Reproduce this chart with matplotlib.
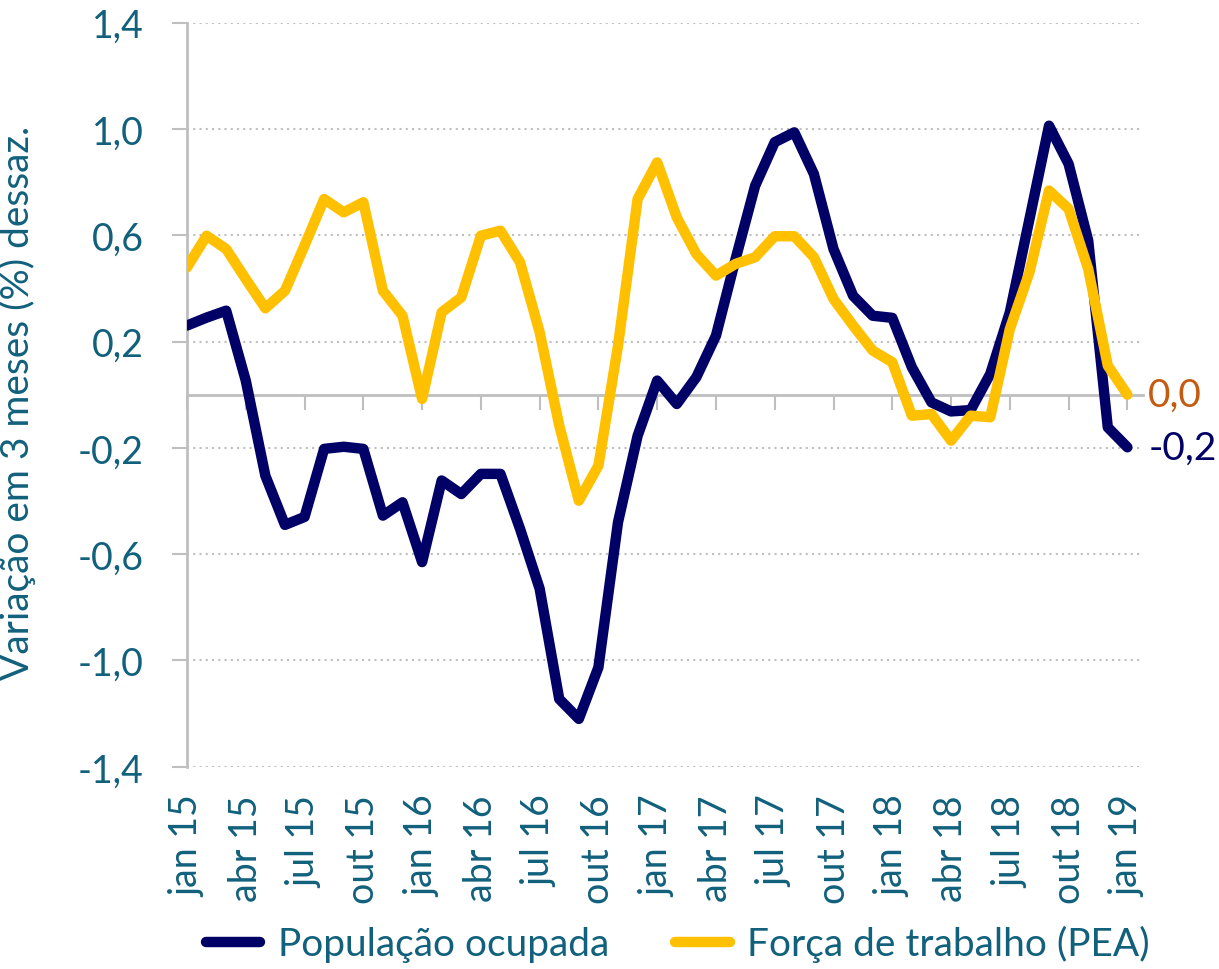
import matplotlib
matplotlib.use("Agg")
import matplotlib.pyplot as plt

# variação em 3 meses (%), dessazonalizada, jan 15 .. jan 19
meses = ["jan", "fev", "mar", "abr", "mai", "jun", "jul", "ago", "set", "out", "nov", "dez"]
anos = ["15", "16", "17", "18", "19"]
ocupada = [0.26, 0.29, 0.316, 0.053, -0.305, -0.49, -0.46, -0.204, -0.196, -0.204,
           -0.455, -0.405, -0.63, -0.323, -0.374, -0.298, -0.298, -0.505, -0.73, -1.145,
           -1.22, -1.026, -0.48, -0.155, 0.053, -0.035, 0.066, 0.222, 0.51, 0.786,
           0.95, 0.987, 0.83, 0.548, 0.372, 0.297, 0.289, 0.103, -0.029, -0.063,
           -0.058, 0.078, 0.31, 0.66, 1.012, 0.868, 0.58, -0.123, -0.198]
pea = [0.479, 0.598, 0.548, 0.435, 0.325, 0.391, 0.561, 0.736, 0.686, 0.724,
       0.391, 0.297, -0.016, 0.31, 0.366, 0.598, 0.617, 0.498, 0.235, -0.116,
       -0.399, -0.267, 0.184, 0.736, 0.874, 0.667, 0.529, 0.448, 0.492, 0.517,
       0.596, 0.596, 0.517, 0.36, 0.26, 0.166, 0.122, -0.079, -0.073, -0.173,
       -0.079, -0.085, 0.247, 0.46, 0.768, 0.699, 0.473, 0.109, 0.0]
yticks = [-1.4, -1.0, -0.6, -0.2, 0.2, 0.6, 1.0, 1.4]

navy = "#000066"
amarelo = "#FFC000"
texto = "#11607C"
cinza = "#BFBFBF"

plt.rcParams["font.family"] = ["Lato", "DejaVu Sans"]

fig = plt.figure(figsize=(12.19, 9.70), dpi=100)
ax = fig.add_axes([0.1534, 0.2085, 0.7843, 0.7672])

x = list(range(len(ocupada)))
rotulos = [meses[i % 12] + " " + anos[i // 12] for i in x]

ax.set_ylim(-1.4, 1.4)
ax.set_xlim(0, 48.8)

for v in yticks:
    ax.axhline(v, color=cinza, lw=1.5, ls=(0, (1, 2)), zorder=1)

l1, = ax.plot(x, ocupada, color=navy, lw=7.5, solid_joinstyle="round",
              solid_capstyle="round", zorder=3, label="População ocupada")
l2, = ax.plot(x, pea, color=amarelo, lw=7.5, solid_joinstyle="round",
              solid_capstyle="round", zorder=4, label="Força de trabalho (PEA)")

# eixo das categorias cruzando em zero
for s in ["top", "right"]:
    ax.spines[s].set_visible(False)
ax.spines["bottom"].set_position(("data", 0))
ax.spines["bottom"].set_color(cinza)
ax.spines["bottom"].set_linewidth(2)
ax.spines["bottom"].set_zorder(2)
ax.spines["left"].set_color(cinza)
ax.spines["left"].set_linewidth(2)

ax.set_xticks(x[::3])
ax.tick_params(axis="x", direction="out", length=11, width=1.5, color=cinza,
               labelbottom=False)
ax.set_yticks(yticks)
ax.set_yticklabels([f"{v:.1f}".replace(".", ",") for v in yticks])
ax.tick_params(axis="y", direction="out", length=11, width=1.5, color=cinza,
               labelsize=27, labelcolor=texto, pad=20)

sec = ax.secondary_xaxis(0)
sec.set_xticks(x[::3])
sec.set_xticklabels(rotulos[::3], rotation=90)
sec.tick_params(length=0, pad=20, labelsize=27, labelcolor=texto)
sec.spines["bottom"].set_visible(False)

ax.set_ylabel("Variação em 3 meses (%) dessaz.", fontsize=28, color=texto)
ax.yaxis.set_label_coords(-0.158, 0.49)

ax.annotate(f"{pea[-1]:.1f}".replace(".", ","), xy=(x[-1], pea[-1]),
            xytext=(15, 0), textcoords="offset points", va="center",
            fontsize=28, color="#C55A11")
ax.annotate(f"{ocupada[-1]:.1f}".replace(".", ","), xy=(x[-1], ocupada[-1]),
            xytext=(15, 0), textcoords="offset points", va="center",
            fontsize=28, color=navy)

fig.legend(handles=[l1, l2], loc="center", bbox_to_anchor=(0.556, 0.026),
           ncol=2, frameon=False, fontsize=28, labelcolor=texto,
           handlelength=1.4, handletextpad=0.45, columnspacing=1.7)

fig.savefig("out.png", dpi=100)
